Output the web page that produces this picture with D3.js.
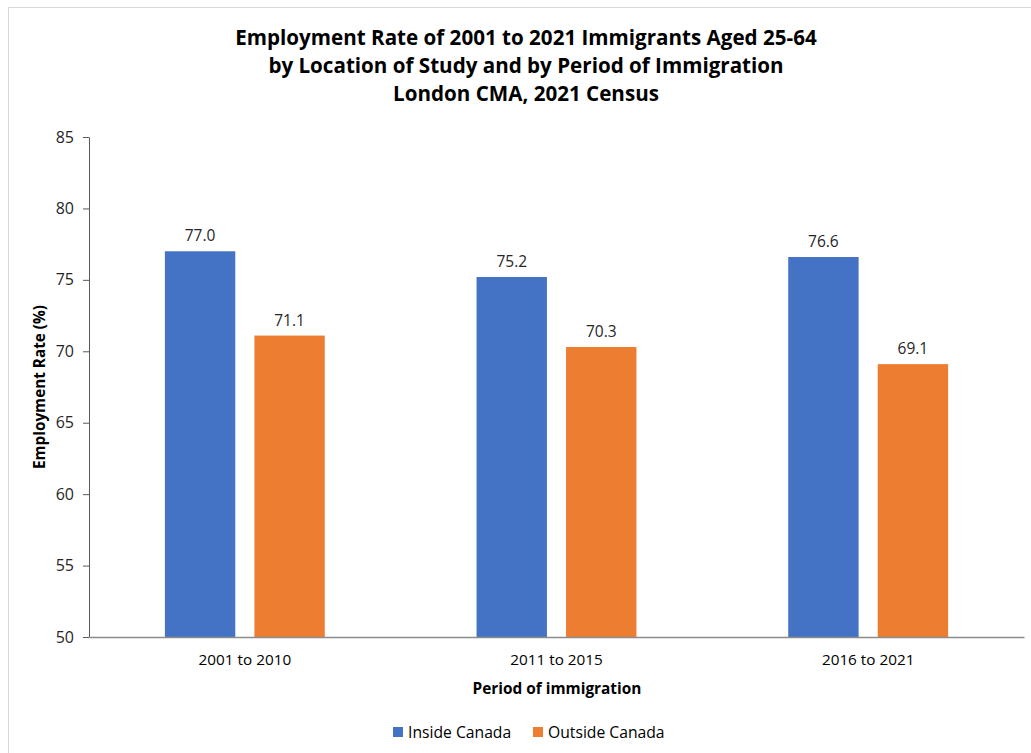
<!DOCTYPE html>
<html>
<head>
<meta charset="utf-8">
<script src="https://cdn.jsdelivr.net/npm/d3@7"></script>
<style>
  html, body { margin: 0; padding: 0; background: #fff; }
  svg { display: block; }
  text { font-family: "Open Sans", "Noto Sans", sans-serif; }
</style>
</head>
<body>
<svg id="chart" width="1031" height="753"></svg>
<script>
const categories = ["2001 to 2010", "2011 to 2015", "2016 to 2021"];
const seriesNames = ["Inside Canada", "Outside Canada"];
const insideCanada = [77.0, 75.2, 76.6];
const outsideCanada = [71.1, 70.3, 69.1];
const yTicks = [50, 55, 60, 65, 70, 75, 80, 85];
const titleLines = [
  "Employment Rate of 2001 to 2021 Immigrants Aged 25-64",
  "by Location of Study and by Period of Immigration",
  "London CMA, 2021 Census"
];
const colors = ["#4472C4", "#ED7D31"];

const seriesValues = [insideCanada, outsideCanada];
const data = categories.map((c, i) => ({
  category: c,
  values: seriesNames.map((s, j) => ({ series: s, value: seriesValues[j][i], color: colors[j] }))
}));

const svg = d3.select("#chart");

// outer frame
svg.append("rect")
  .attr("x", 8.5).attr("y", 7.5)
  .attr("width", 1200).attr("height", 1000)
  .attr("fill", "none").attr("stroke", "#d9d9d9");

const mLeft = 89, mRight = 1024, mTop = 137, mBottom = 637;

const x0 = d3.scaleBand().domain(categories).range([mLeft, mRight]).padding(0);
const bw = x0.bandwidth();
const x1 = d3.scaleBand().domain(seriesNames)
  .range([bw * 0.2435, bw * 0.7565]).paddingInner(0.2135).paddingOuter(0);
const y = d3.scaleLinear().domain([50, 85]).range([mBottom, mTop]);

// title
const title = svg.append("text")
  .attr("text-anchor", "middle")
  .attr("font-weight", "bold")
  .attr("font-size", 20.6)
  .attr("fill", "#000");
titleLines.forEach((t, i) => {
  title.append("tspan").attr("x", 526).attr("y", 45 + i * 28).text(t);
});

// bars
const groups = svg.append("g").selectAll("g").data(data).join("g")
  .attr("transform", d => `translate(${x0(d.category)},0)`);

groups.selectAll("rect").data(d => d.values).join("rect")
  .attr("x", d => x1(d.series))
  .attr("width", x1.bandwidth())
  .attr("y", d => y(d.value))
  .attr("height", d => y(50) - y(d.value))
  .attr("fill", d => d.color);

groups.selectAll("text.lbl").data(d => d.values).join("text")
  .attr("class", "lbl")
  .attr("x", d => x1(d.series) + x1.bandwidth() / 2)
  .attr("y", d => y(d.value) - 10)
  .attr("text-anchor", "middle")
  .attr("font-size", 15.5)
  .attr("fill", "#262626")
  .text(d => d.value.toFixed(1));

// y axis
const yAxis = svg.append("g")
  .attr("transform", `translate(${mLeft},0)`)
  .call(d3.axisLeft(y).tickValues(yTicks).tickSize(6).tickSizeOuter(0).tickPadding(9));
yAxis.select(".domain").attr("stroke", "#595959");
yAxis.selectAll(".tick line").attr("stroke", "#595959");
yAxis.selectAll(".tick text").attr("font-size", 16).attr("fill", "#262626")
  .attr("font-family", "'Open Sans', sans-serif");

// x axis
const xAxis = svg.append("g")
  .attr("transform", `translate(0,${mBottom})`)
  .call(d3.axisBottom(x0).tickSize(0).tickPadding(17));
xAxis.select(".domain").attr("stroke", "#8c8c8c").attr("stroke-width", 1.3);
xAxis.selectAll(".tick text").attr("font-size", 15.3).attr("fill", "#000")
  .attr("font-family", "'Open Sans', sans-serif");

// axis titles
svg.append("text")
  .attr("transform", `translate(45,${(mTop + mBottom) / 2}) rotate(-90)`)
  .attr("text-anchor", "middle")
  .attr("font-weight", "bold")
  .attr("font-size", 15.3)
  .attr("fill", "#000")
  .text("Employment Rate (%)");

svg.append("text")
  .attr("x", 557)
  .attr("y", 694)
  .attr("text-anchor", "middle")
  .attr("font-weight", "bold")
  .attr("font-size", 15.4)
  .attr("fill", "#000")
  .text("Period of immigration");

// legend
const legendX = [393, 533];
const legend = svg.append("g").selectAll("g").data(seriesNames).join("g")
  .attr("transform", (d, i) => `translate(${legendX[i]},727)`);
legend.append("rect").attr("width", 10).attr("height", 10)
  .attr("fill", (d, i) => colors[i]);
legend.append("text").attr("x", 15).attr("y", 10.5)
  .attr("font-size", 15.7).attr("fill", "#000").text(d => d);
</script>
</body>
</html>
